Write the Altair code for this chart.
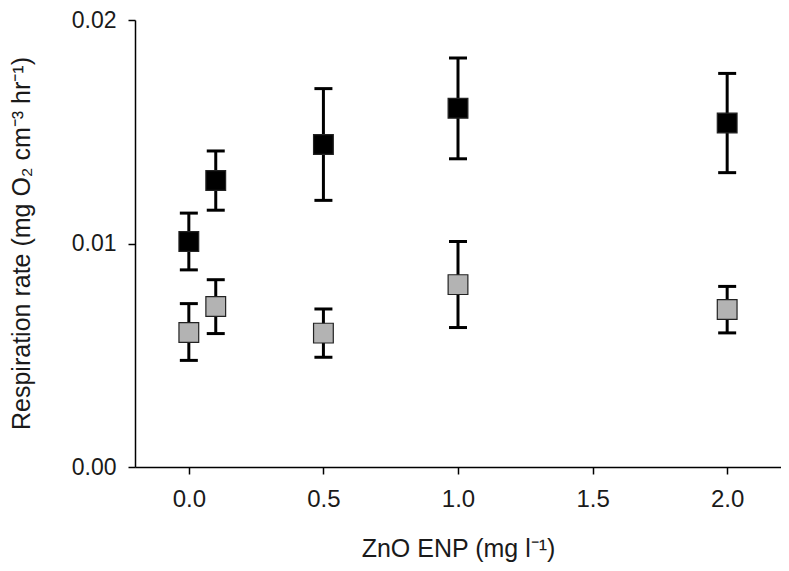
import altair as alt
import pandas as pd

# ZnO ENP concentration (mg l-1)
conc = [0.0, 0.1, 0.5, 1.0, 2.0]

# Series 1 (black squares)
black_mean = [0.01009, 0.01282, 0.01443, 0.01605, 0.01539]
black_hi = [0.01136, 0.01414, 0.01693, 0.01830, 0.01761]
black_lo = [0.00882, 0.01149, 0.01193, 0.01379, 0.01317]

# Series 2 (grey squares)
grey_mean = [0.00602, 0.00718, 0.00599, 0.00816, 0.00705]
grey_hi = [0.00731, 0.00838, 0.00707, 0.01009, 0.00808]
grey_lo = [0.00477, 0.00597, 0.00491, 0.00624, 0.00600]

x_ticks = [0.0, 0.5, 1.0, 1.5, 2.0]
y_ticks = [0.0, 0.01, 0.02]

rows = []
for i, c in enumerate(conc):
    rows.append({"conc": c, "series": "black", "mean": black_mean[i], "hi": black_hi[i], "lo": black_lo[i]})
for i, c in enumerate(conc):
    rows.append({"conc": c, "series": "grey", "mean": grey_mean[i], "hi": grey_hi[i], "lo": grey_lo[i]})
df = pd.DataFrame(rows)

FONT = "Liberation Sans"

xs = alt.Scale(domain=[-0.2, 2.2], nice=False, zero=False)
ys = alt.Scale(domain=[0.0, 0.02], nice=False)

x_enc = alt.X(
    "conc:Q", scale=xs,
    axis=alt.Axis(values=x_ticks, format=".1f", title="ZnO ENP (mg l\u207b\u00b9)",
                  grid=False, titleX=323, titleY=81, titleAlign="center", titleBaseline="middle",
                  labelFontSize=24, labelPadding=13),
)
y_axis = alt.Axis(values=y_ticks, format=".2f", title="Respiration rate (mg O\u2082 cm\u207b\u00b3 hr\u207b\u00b9)",
                  grid=False, titleX=-114, titleY=223, titleAlign="center", titleBaseline="middle", titleAngle=-90,
                  labelFontSize=23, labelPadding=12)

base = alt.Chart(df)

rules = base.mark_rule(color="black", strokeWidth=3).encode(
    x=x_enc,
    y=alt.Y("lo:Q", scale=ys, axis=y_axis),
    y2="hi:Q",
)
cap_hi = base.mark_tick(color="black", thickness=3, size=18, orient="horizontal", opacity=1).encode(
    x="conc:Q", y="hi:Q"
)
cap_lo = base.mark_tick(color="black", thickness=3, size=18, orient="horizontal", opacity=1).encode(
    x="conc:Q", y="lo:Q"
)
squares = base.mark_square(size=390, opacity=1, strokeWidth=1.2, stroke="#222222").encode(
    x="conc:Q",
    y="mean:Q",
    fill=alt.Fill("series:N", scale=alt.Scale(domain=["black", "grey"], range=["#000000", "#b3b3b3"]), legend=None),
)

chart = alt.layer(rules, cap_hi, cap_lo, squares).properties(
    width=646, height=447,
    autosize=alt.AutoSizeParams(type="none"),
    padding={"left": 127, "top": 12, "right": 0, "bottom": 96},
    background="white",
).configure_view(stroke=None).configure_axis(
    domainColor="black", domainWidth=1.5, tickColor="black", tickWidth=1.5, tickSize=7,
    labelFont=FONT, labelColor="#1a1a1a", titleFont=FONT, titleFontSize=25,
    titleFontWeight="normal", titleColor="#1a1a1a",
)

chart.save("out.html", embed_options={"renderer": "svg", "actions": False})
